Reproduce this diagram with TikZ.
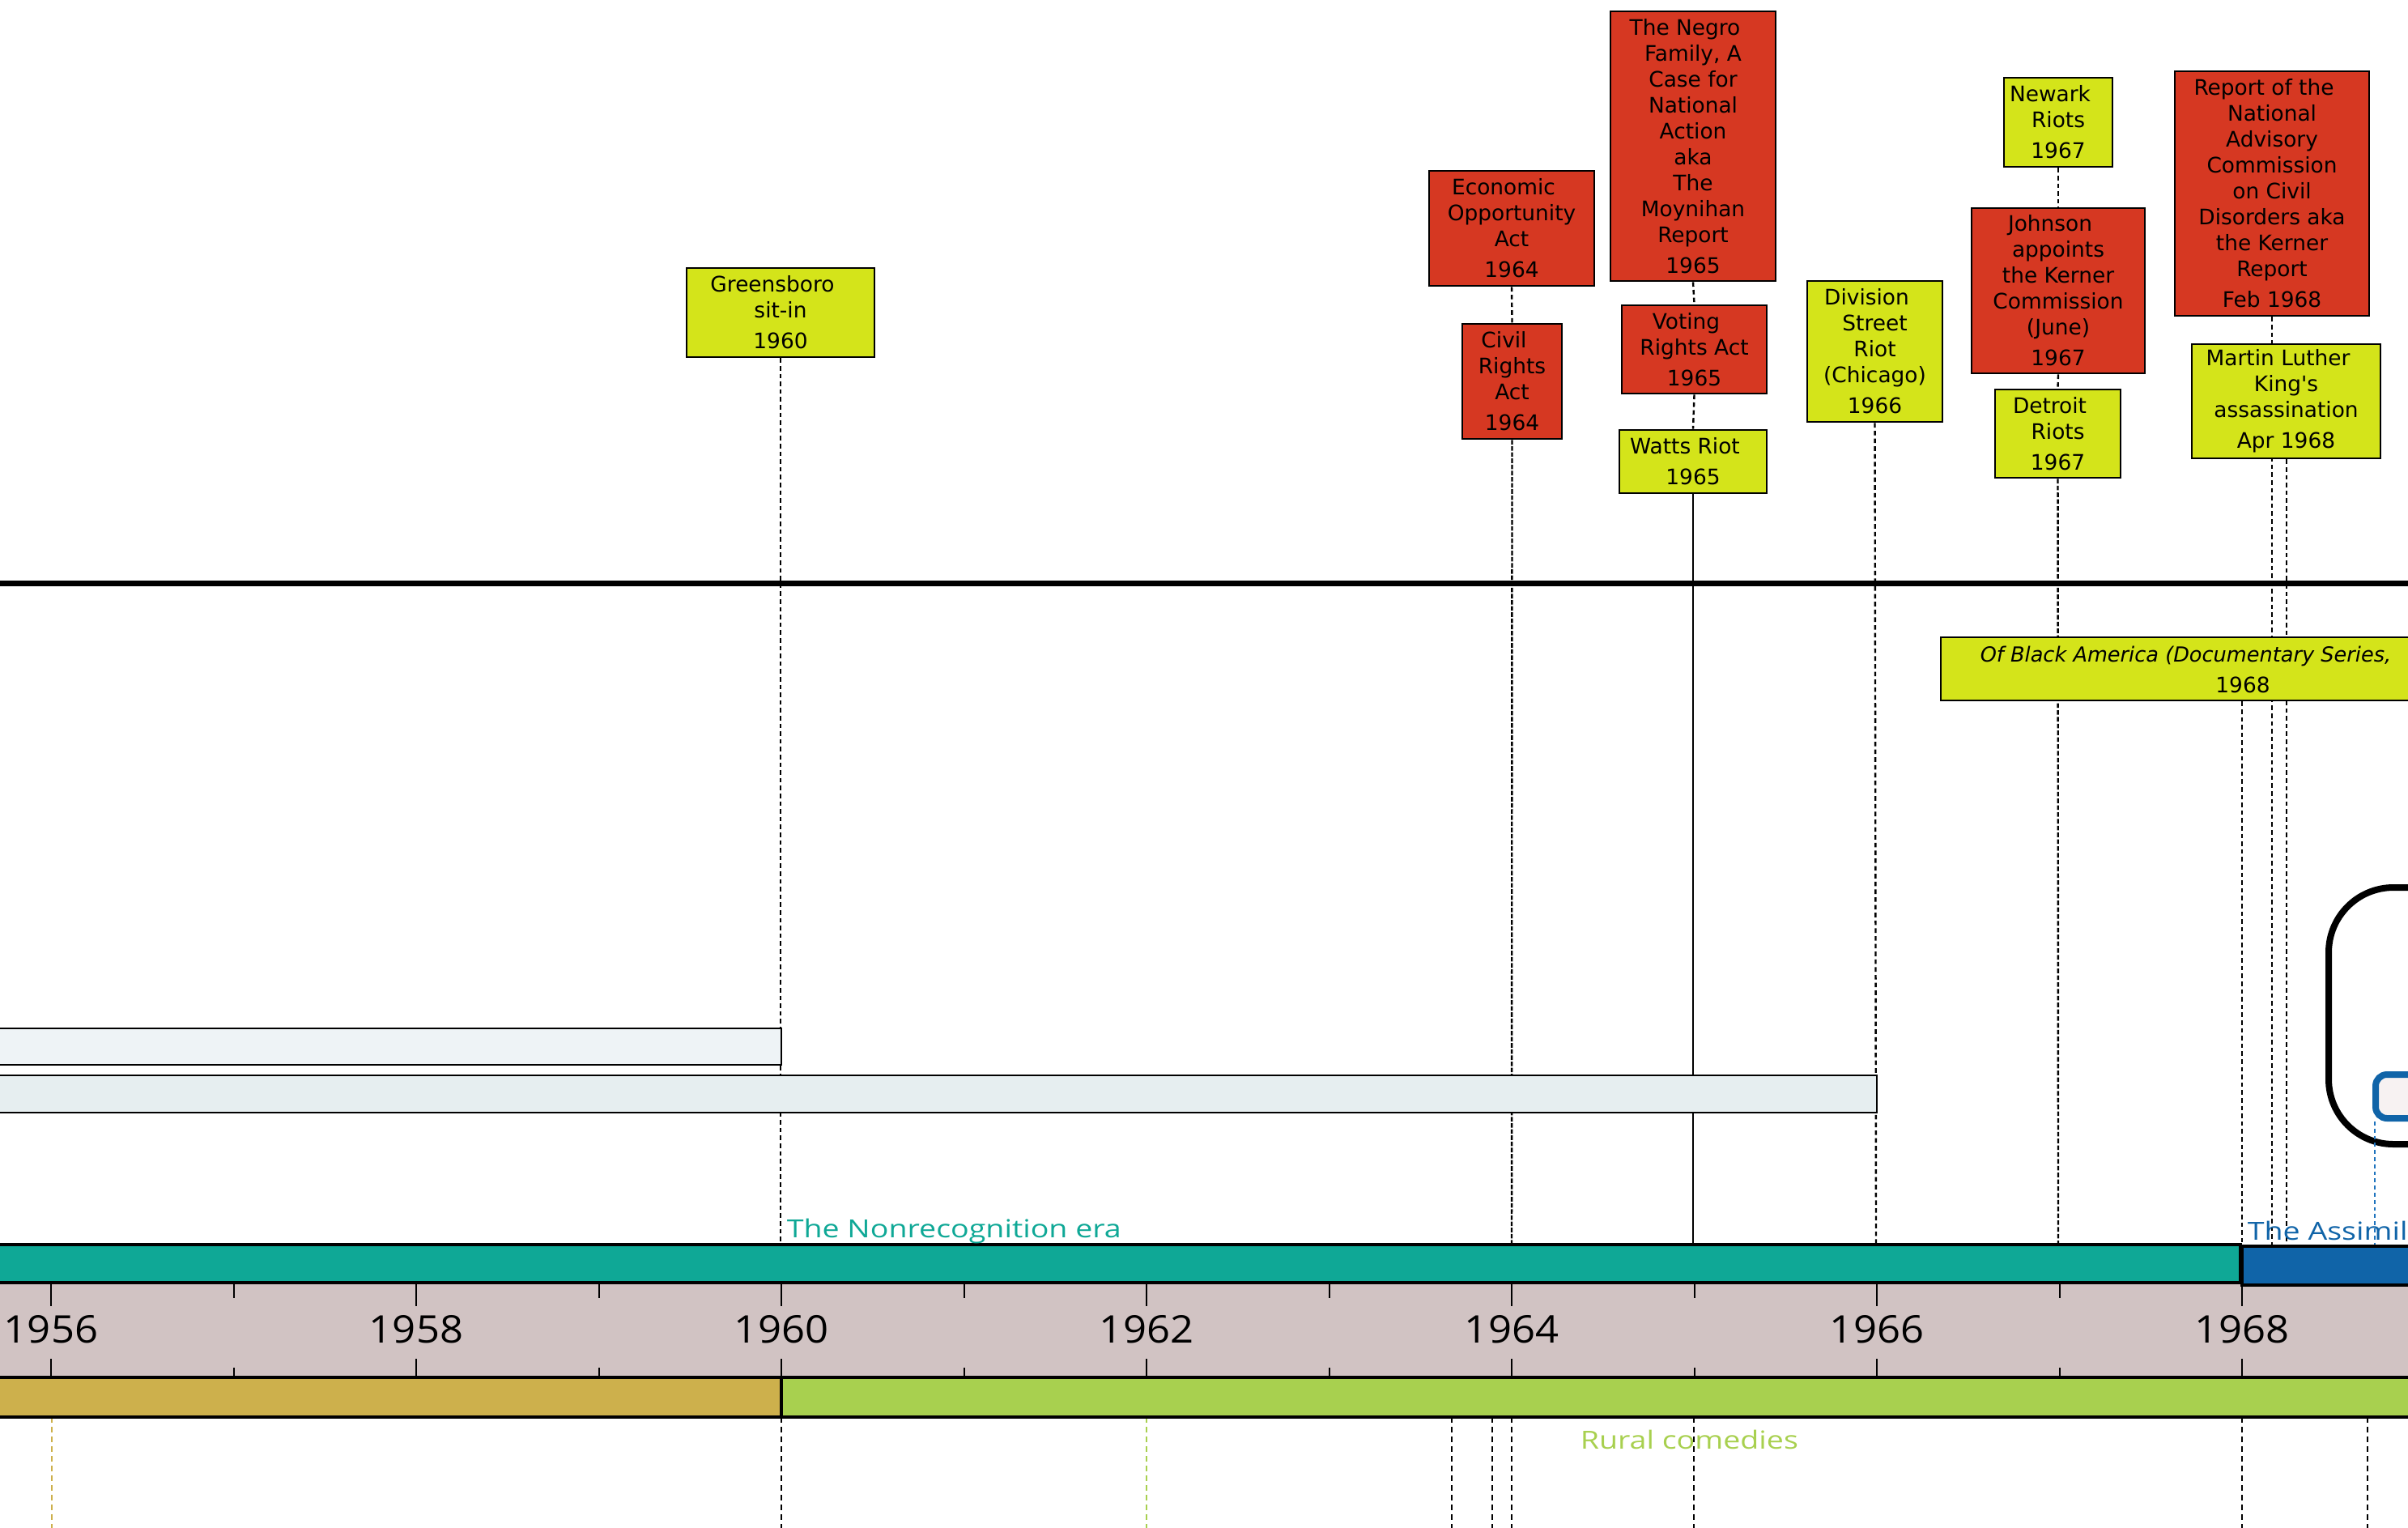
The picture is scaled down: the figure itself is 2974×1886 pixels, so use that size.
\documentclass[tikz,border=0pt]{standalone}
\usepackage{fontspec}
\setmainfont{DejaVu Sans}[Ligatures=TeXOff]
\newfontfamily\lblfont[FakeStretch=1.22]{Open Sans}
\newfontfamily\yrfont[FakeStretch=1.08]{Open Sans}
\usetikzlibrary{backgrounds}
\newcommand\trsp{\hspace*{5pt}}
\definecolor{evred}{RGB}{214,56,34}
\definecolor{evyel}{RGB}{212,228,26}
\definecolor{tealband}{RGB}{15,168,150}
\definecolor{blueband}{RGB}{16,100,168}
\definecolor{axisc}{RGB}{209,195,195}
\definecolor{goldband}{RGB}{205,176,76}
\definecolor{lgreen}{RGB}{168,208,79}
\definecolor{barone}{RGB}{238,243,246}
\definecolor{bartwo}{RGB}{230,238,240}
\definecolor{pinkw}{RGB}{247,242,242}
\definecolor{dotblue}{RGB}{30,115,190}
\begin{document}
\begin{tikzpicture}[x=0.25pt,y=-0.25pt,
  evt/.style={draw=black, line width=0.7pt, inner sep=0pt, align=center,
    font=\fontsize{6.6pt}{8pt}\selectfont},
  redbox/.style={evt, fill=evred},
  yelbox/.style={evt, fill=evyel},
  sz/.style 2 args={minimum width=#1*0.25pt, minimum height=#2*0.25pt},
  vdash/.style={line width=0.6pt, dash pattern=on 1.4pt off 1pt},
  vsolid/.style={line width=0.6pt},
  band/.style={draw=black, line width=0.8pt},
  bar/.style={draw=black, line width=0.55pt},
  tick/.style={line width=0.5pt},
  yrlab/.style={font=\yrfont\fontsize{11.75pt}{14pt}\selectfont, inner sep=0pt},
  eralab/.style={font=\lblfont\fontsize{7.7pt}{9pt}\selectfont, inner sep=0pt, anchor=base west}
]
\useasboundingbox (0,0) rectangle (2974,1886);
\clip (0,0) rectangle (2974,1886);

% event boxes
\path
  node[yelbox, sz={232}{110}] (gb) at (964,386) {Greensboro\trsp\\sit-in\trsp\\[1.5pt]1960}
  node[redbox, sz={204}{142}] (eoa) at (1867,282) {Economic\trsp\\Opportunity\trsp\\Act\\[1.5pt]1964}
  node[redbox, sz={123}{142}] (cra) at (1867.5,471) {Civil\trsp\\Rights\trsp\\Act\\[1.5pt]1964}
  node[redbox, sz={204}{333}] (ngf) at (2091,180.5) {The Negro\trsp\\Family, A\trsp\\Case for\trsp\\National\trsp\\Action\trsp\\aka\trsp\\The\trsp\\Moynihan\trsp\\Report\trsp\\[1.5pt]1965}
  node[redbox, sz={179}{109}] (vra) at (2092.5,431.5) {Voting\trsp\\Rights Act\trsp\\[1.5pt]1965}
  node[yelbox, sz={182}{78}] (wat) at (2091,570) {Watts Riot\trsp\\[1.5pt]1965}
  node[yelbox, sz={167}{174}] (div) at (2315.5,434) {Division\trsp\\Street\trsp\\Riot\trsp\\(Chicago)\trsp\\[1.5pt]1966}
  node[yelbox, sz={134}{110}] (nwk) at (2542,151) {Newark\trsp\\Riots\trsp\\[1.5pt]1967}
  node[redbox, sz={214}{204}] (jkc) at (2542,359) {Johnson\trsp\\appoints\trsp\\the Kerner\trsp\\Commission\trsp\\(June)\trsp\\[1.5pt]1967}
  node[yelbox, sz={155}{109}] (det) at (2541.5,535.5) {Detroit\trsp\\Riots\trsp\\[1.5pt]1967}
  node[redbox, sz={240}{302}] (krr) at (2806,239) {Report of the\trsp\\National\trsp\\Advisory\trsp\\Commission\trsp\\on Civil\trsp\\Disorders aka\trsp\\the Kerner\trsp\\Report\trsp\\[1.5pt]Feb 1968}
  node[yelbox, sz={233}{141}] (mlk) at (2823.5,495.5) {Martin Luther\trsp\\King's\trsp\\assassination\trsp\\[1.5pt]Apr 1968};

% Of Black America box
\node[yelbox, sz={744}{78}] (oba) at (2769,826) {};
\node[anchor=west, inner sep=0pt, font=\fontsize{6.4pt}{8pt}\selectfont\itshape] (obat) at (2445,810) {Of Black America (Documentary Series,};
\node[inner sep=0pt, font=\fontsize{6.6pt}{8pt}\selectfont] (obay) at (2770,846) {1968};

% band-top coordinates
\coordinate (b1960) at (964,1537);
\coordinate (b1964) at (1867,1537);
\coordinate (b1965) at (2091,1537);
\coordinate (b1966) at (2317,1537);
\coordinate (b1967) at (2542,1537);
\coordinate (b1968) at (2769,1537);
\coordinate (bfeb) at (2806,1539);
\coordinate (bapr) at (2824,1539);
\coordinate (bblue) at (2933,1539);

% connectors above the timeline (behind the boxes)
\begin{scope}[on background layer]
\draw[line width=1.75pt] (0,720) coordinate (sepL) -- (2974,720) coordinate (sepR);
\draw[vdash] (gb.south) -- (b1960);
\draw[vdash] (eoa.south) -- (cra.north);
\draw[line width=0.6pt, dash pattern=on 1.4pt off 0.5pt] (cra.south) -- (b1964);
\draw[vdash] (ngf.south) -- (vra.north);
\draw[vdash] (vra.south) -- (wat.north);
\draw[vsolid] (wat.south) -- (b1965);
\draw[vdash] (div.south) -- (b1966);
\draw[vdash] (nwk.south) -- (jkc.north);
\draw[vdash] (jkc.south) -- (det.north);
\draw[line width=0.6pt, dash pattern=on 1.4pt off 0.7pt] (det.south) -- (b1967);
\draw[vdash] (krr.south) -- (bfeb);
\draw[vdash] (mlk.south -| bapr) -- (bapr);
\draw[vdash] (oba.south) -- (b1968);
\end{scope}

% lines below the timeline
\foreach \nm/\xx/\cc in {la/64/goldband, lb/965/goldband, lc/1416/lgreen, ld/1793/black, le/1843/black, lf/1867/black, lg/2092/black, lh/2769/black, li/2924/black}{
  \coordinate (\nm t) at (\xx,1750);
  \coordinate (\nm b) at (\xx,1900);
  \draw[line width=0.6pt, dash pattern=on 1.8pt off 1.2pt, draw=\cc] (\nm t) -- (\nm b);
}
\coordinate (lbt2) at (965,1750);
\coordinate (lbb2) at (965,1900);
\draw[line width=0.6pt, dash pattern=on 1.8pt off 1.2pt, draw=black] (lbt2) -- (lbb2);

% light bars
\draw[bar, fill=barone] (-20,1270) rectangle (965,1315);
\draw[bar, fill=bartwo] (-20,1328) rectangle (2318,1374);

% right-hand rounded frames
\draw[line width=2pt, rounded corners=20pt] (3300,1096) -- (2876,1096) -- (2876,1413) -- (3300,1413);
\draw[draw=blueband, fill=pinkw, line width=2pt, rounded corners=3.5pt] (3300,1327) -- (2934,1327) -- (2934,1381) -- (3300,1381);
\coordinate (bluetop) at (2933,1385);
\draw[draw=dotblue, line width=0.5pt, dash pattern=on 1.2pt off 1pt] (bluetop) -- (bblue);

% era bands
\fill[axisc] (-20,1584) rectangle (3000,1701);
\draw[band, fill=tealband] (-20,1537) rectangle (2767,1584);
\draw[band, fill=blueband] (2769,1539) rectangle (3000,1587);
\draw[band, fill=goldband] (-20,1701) rectangle (965,1750);
\draw[band, fill=lgreen] (965,1701) rectangle (3000,1750);

% ticks and years
\foreach \yr in {1956,1958,...,1968}{
  \pgfmathsetmacro\xx{965+(\yr-1960)*225.5}
  \draw[tick] (\xx,1586) -- (\xx,1613);
  \draw[tick] (\xx,1678) -- (\xx,1700);
  \node[yrlab] (y\yr) at (\xx,1642) {\yr};
}
\foreach \yr in {1957,1959,...,1967}{
  \pgfmathsetmacro\xx{965+(\yr-1960)*225.5}
  \draw[tick] (\xx,1586) -- (\xx,1603);
  \draw[tick] (\xx,1689) -- (\xx,1700);
}

% era labels
\node[eralab, text=tealband] (nonrec) at (971,1528) {The Nonrecognition era};
\node[eralab, text=blueband] (assim) at (2775,1531) {The Assimilation era};
\node[eralab, text=lgreen] (rural) at (1951,1789) {Rural comedies};
\end{tikzpicture}
\end{document}
